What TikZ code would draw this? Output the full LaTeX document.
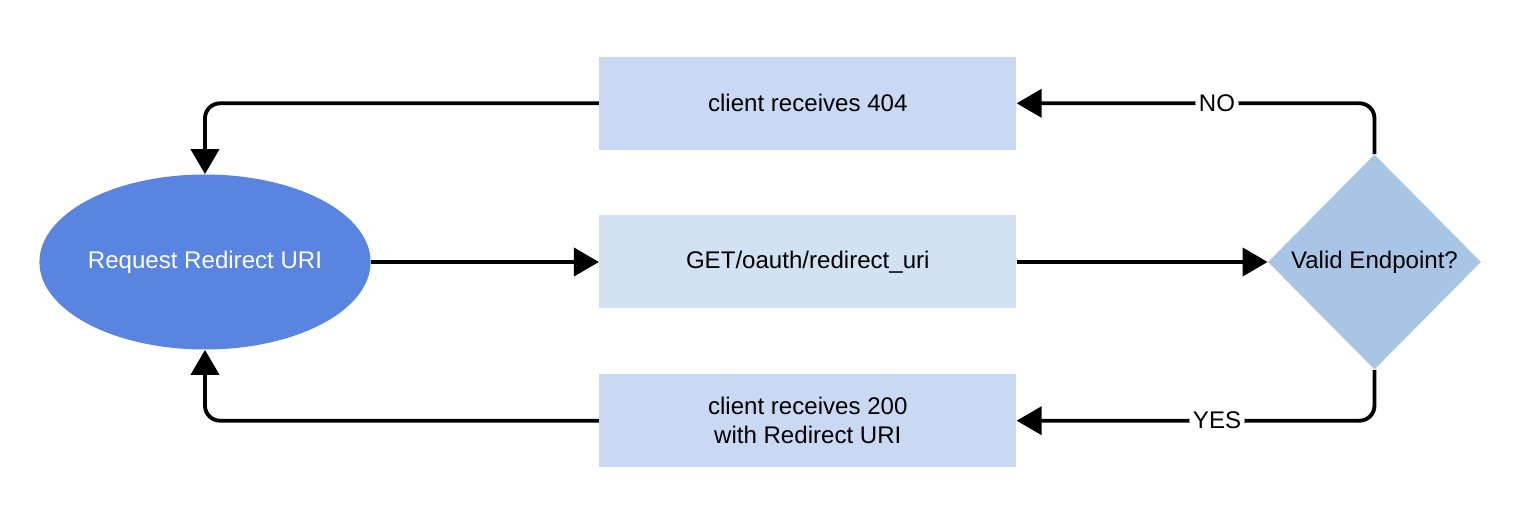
\documentclass[tikz,border=0pt]{standalone}
\usepackage{fontspec}
\setmainfont{Liberation Sans}
\usepackage{tikz}
\usetikzlibrary{shapes.geometric, arrows.meta, positioning, calc}
\usepackage{xcolor}
\definecolor{reqblue}{HTML}{5985E1}
\definecolor{boxblue}{HTML}{C9D9F3}
\definecolor{midblue}{HTML}{D3E2F3}
\definecolor{diablue}{HTML}{A8C5E5}
\tikzstyle{start} = [
    ellipse, minimum width=6.52cm, minimum height=3.5cm, inner sep=0pt,
    fill=reqblue, text=white, font=\fontsize{13.7}{16.5}\selectfont
]
\tikzstyle{box} = [
    rectangle, minimum width=8.34cm, minimum height=1.86cm, align=center,
    fill=boxblue, font=\fontsize{13.7}{16.5}\selectfont
]
\tikzstyle{decision} = [
    diamond, minimum width=4.26cm, minimum height=4.3cm, inner sep=0pt,
    fill=diablue, font=\fontsize{13.7}{16.5}\selectfont
]
\tikzstyle{arrow} = [-{Triangle[length=0.5cm, width=0.56cm]}, line width=2.2pt, rounded corners=0.3cm]
\tikzstyle{answer} = [fill=white, inner sep=2pt, font=\fontsize{13.7}{16.5}\selectfont]

\begin{document}
\begin{tikzpicture}[node distance=1.3cm and 4.56cm]

    % Canvas
    \fill[white] (-4.1,5.24) rectangle (26.54,-5.24);

    % Nodes
    \node[start] (req) {Request Redirect URI};
    \node[box, fill=midblue, right=of req] (get) {GET/oauth/redirect\_uri};
    \node[box, above=of get] (e404) {client receives 404};
    \node[box, below=of get] (e200) {client receives 200\\with Redirect URI};
    \node[decision, right=5.02cm of get] (valid) {Valid Endpoint?};

    % Main flow
    \draw[arrow] (req) -- (get);
    \draw[arrow] (get) -- (valid);

    % Answers
    \draw[arrow] (valid) |- node[answer, pos=0.72] {NO} (e404);
    \draw[arrow] (valid) |- node[answer, pos=0.72] {YES} (e200);

    % Back to client
    \draw[arrow] (e404) -| (req);
    \draw[arrow] (e200) -| (req);

\end{tikzpicture}
\end{document}
